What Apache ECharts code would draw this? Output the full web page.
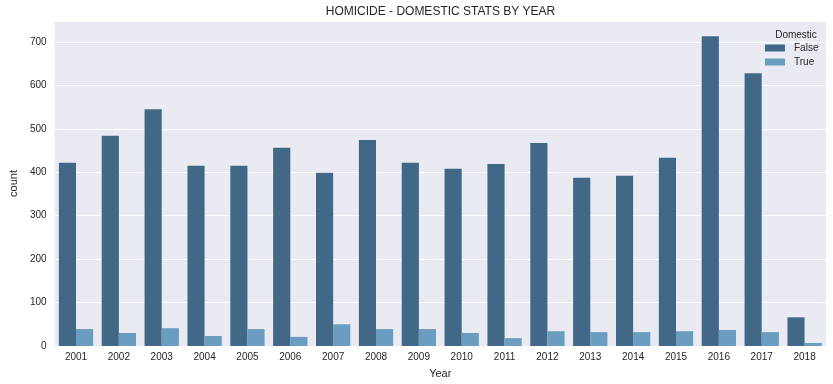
<!DOCTYPE html>
<html>
<head>
<meta charset="utf-8">
<script src="https://cdn.jsdelivr.net/npm/echarts@6/dist/echarts.min.js"></script>
<style>html,body{margin:0;padding:0;background:#fff}#c{width:833px;height:384px}</style>
</head>
<body>
<div id="c"></div>
<script>
const years = ['2001','2002','2003','2004','2005','2006','2007','2008','2009','2010','2011','2012','2013','2014','2015','2016','2017','2018'];
const falseCounts = [422,484,545,415,415,456,399,474,422,408,419,467,387,392,433,713,628,66];
const trueCounts = [39,30,41,23,39,21,50,39,39,30,18,34,32,32,34,37,32,7];
const yTicks = [0,100,200,300,400,500,600,700];

const FONT = '"Liberation Sans", Arial, sans-serif';
const TXT = '#262626';
const chart = echarts.init(document.getElementById('c'), null, {renderer: 'canvas'});
chart.setOption({
  animation: false,
  backgroundColor: '#ffffff',
  title: [
    {text: 'HOMICIDE - DOMESTIC STATS BY YEAR', left: 435.5, textAlign: 'center', top: 1,
     textStyle: {fontFamily: FONT, fontSize: 12, fontWeight: 'normal', color: TXT}},
    {text: 'Domestic', left: 791, textAlign: 'center', top: 25,
     textStyle: {fontFamily: FONT, fontSize: 10, fontWeight: 'normal', color: TXT}}
  ],
  legend: {
    orient: 'vertical', left: 765, top: 43, padding: 0, itemWidth: 20, itemHeight: 7, itemGap: 4,
    data: ['False', 'True'],
    textStyle: {fontFamily: FONT, fontSize: 10, color: TXT, padding: [0,0,0,4]},
    icon: 'rect'
  },
  grid: {left: 45, right: 7, top: 21, bottom: 37, show: true, backgroundColor: '#EAEAF2', borderWidth: 0},
  xAxis: {
    type: 'category', data: years, name: 'Year', nameLocation: 'middle', nameGap: 22,
    nameTextStyle: {fontFamily: FONT, fontSize: 11, color: TXT},
    axisLine: {show: false}, axisTick: {show: false},
    axisLabel: {fontFamily: FONT, fontSize: 10, color: TXT, margin: 6},
    splitLine: {show: false}
  },
  yAxis: {
    type: 'value', min: 0, max: 748, interval: 100, name: 'count', nameLocation: 'middle', nameGap: 30,
    nameTextStyle: {fontFamily: FONT, fontSize: 11, color: TXT},
    axisLine: {show: false}, axisTick: {show: false},
    axisLabel: {fontFamily: FONT, fontSize: 10, color: TXT, margin: 8, showMaxLabel: false,
      formatter: v => yTicks.includes(v) ? String(v) : ''},
    splitLine: {show: true, lineStyle: {color: '#ffffff', width: 1}}
  },
  series: [
    {name: 'False', type: 'bar', data: falseCounts, barGap: '0%', barCategoryGap: '20%',
     itemStyle: {color: '#416887'}},
    {name: 'True', type: 'bar', data: trueCounts, barGap: '0%', barCategoryGap: '20%',
     itemStyle: {color: '#6A9DC0'}}
  ]
});
</script>
</body>
</html>
